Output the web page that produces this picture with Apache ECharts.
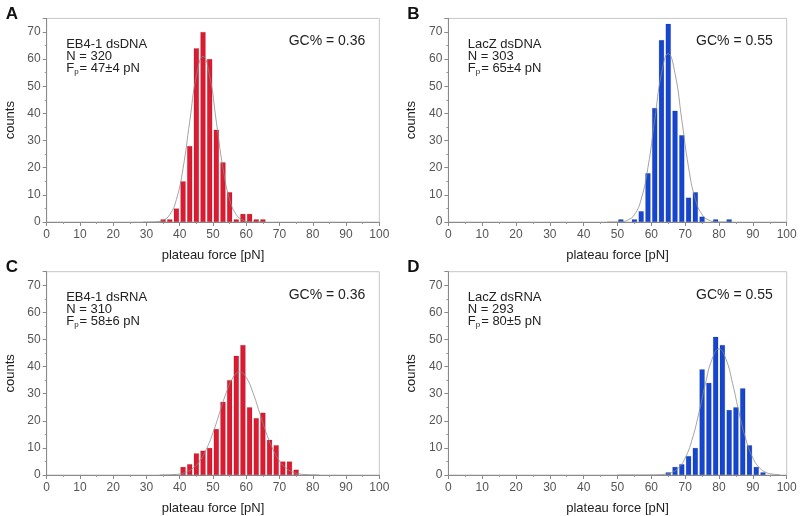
<!DOCTYPE html>
<html>
<head>
<meta charset="utf-8">
<script src="https://cdn.jsdelivr.net/npm/echarts@6/dist/echarts.min.js"></script>
<style>
  html, body { margin: 0; padding: 0; background: #fff; }
  #chart { width: 800px; height: 516px; }
</style>
</head>
<body>
<div id="chart"></div>
<script>
// histogram bins (bin centres, 2 pN wide) and counts
const binsA = [35, 37, 39, 41, 43, 45, 47, 49, 51, 53, 55, 57, 59, 61, 63, 65];
const countsA = [1, 1, 5, 15, 28, 64, 70, 60, 34, 22, 11, 1, 3, 3, 1, 1];
const binsB = [51, 55, 57, 59, 61, 63, 65, 67, 69, 71, 73, 75, 79, 83];
const countsB = [1, 1, 4, 18, 42, 67, 73, 41, 32, 9, 11, 2, 1, 1];
const binsC = [41, 43, 45, 47, 49, 51, 53, 55, 57, 59, 61, 63, 65, 67, 69, 71, 73, 75];
const countsC = [3, 4, 8, 9, 10, 17, 27, 35, 44, 48, 25, 21, 23, 13, 11, 5, 5, 2];
const binsD = [65, 67, 69, 71, 73, 75, 77, 79, 81, 83, 85, 87, 89, 91, 93];
const countsD = [1, 3, 4, 7, 10, 39, 34, 51, 48, 24, 25, 32, 11, 3, 1];

// gaussian fit curves
const fitXA = [29, 31, 33, 35, 37, 39, 41, 43, 45, 47, 49, 51, 53, 55, 57, 59, 61, 63, 65];
const fitYA = [0, 0, 0.1, 0.7, 2.7, 8.3, 19.8, 37, 53.8, 61, 53.8, 37, 19.8, 8.3, 2.7, 0.7, 0.1, 0, 0];
const fitXB = [47, 49, 51, 53, 55, 57, 59, 61, 63, 65, 67, 69, 71, 73, 75, 77, 79, 81, 83];
const fitYB = [0, 0, 0.1, 0.7, 2.7, 8.4, 20.1, 37.6, 54.7, 62, 54.7, 37.6, 20.1, 8.4, 2.7, 0.7, 0.1, 0, 0];
const fitXC = [34, 36, 38, 40, 42, 44, 46, 48, 50, 52, 54, 56, 58, 60, 62, 64, 66, 68, 70, 72, 74, 76, 78, 80, 82];
const fitYC = [0, 0.05, 0.15, 0.4, 1.1, 2.5, 5.1, 9.5, 15.6, 23, 30.4, 35.9, 38, 35.9, 30.4, 23, 15.6, 9.5, 5.1, 2.5, 1.1, 0.4, 0.15, 0.05, 0];
const fitXD = [50, 52, 54, 56, 58, 60, 62, 64, 66, 68, 70, 72, 74, 76, 78, 80, 82, 84, 86, 88, 90, 92, 94, 96, 98];
const fitYD = [0, 0, 0, 0, 0, 0.02, 0.07, 0.3, 0.9, 2.6, 6.3, 12.9, 22.6, 33.8, 42.9, 46.5, 42.9, 33.8, 22.6, 12.9, 6.3, 2.6, 0.9, 0.3, 0.07];

const panels = [
  { letter: "A", name: "EB4-1 dsDNA", n: 320, fp: "47±4", gc: "0.36", bins: binsA, counts: countsA, fx: fitXA, fy: fitYA, color: "#de1a30" },
  { letter: "B", name: "LacZ dsDNA", n: 303, fp: "65±4", gc: "0.55", bins: binsB, counts: countsB, fx: fitXB, fy: fitYB, color: "#1546d2" },
  { letter: "C", name: "EB4-1 dsRNA", n: 310, fp: "58±6", gc: "0.36", bins: binsC, counts: countsC, fx: fitXC, fy: fitYC, color: "#de1a30" },
  { letter: "D", name: "LacZ dsRNA", n: 293, fp: "80±5", gc: "0.55", bins: binsD, counts: countsD, fx: fitXD, fy: fitYD, color: "#1546d2" },
];

const font = "Liberation Sans, Arial, sans-serif";
const gridPos = [
  { left: 46.7, top: 18.4, width: 332.6, height: 203.6 },
  { left: 448.3, top: 18.4, width: 338.4, height: 203.6 },
  { left: 46.7, top: 271.7, width: 332.6, height: 204 },
  { left: 448.3, top: 271.7, width: 338.4, height: 204 },
];

const grids = [], xAxes = [], yAxes = [], series = [], titles = [];

panels.forEach(function (p, i) {
  const g = gridPos[i];
  grids.push(Object.assign({ show: true, borderColor: "#c6c6c6", borderWidth: 1, containLabel: false }, g));
  xAxes.push({
    type: "value", gridIndex: i, min: 0, max: 100, interval: 10,
    name: "plateau force [pN]", nameLocation: "middle", nameGap: 27,
    nameTextStyle: { fontFamily: font, fontSize: 13, color: "#222" },
    axisLine: { show: true, onZero: false, lineStyle: { color: "#8a8a8a" } },
    axisTick: { show: true, length: 4, lineStyle: { color: "#8a8a8a" } },
    minorTick: { show: true, splitNumber: 2, length: 2, lineStyle: { color: "#9a9a9a" } },
    axisLabel: { fontFamily: font, fontSize: 12, color: "#555", margin: 7 },
    splitLine: { show: false },
  });
  yAxes.push({
    type: "value", gridIndex: i, min: 0, max: 75, interval: 10,
    name: "counts", nameLocation: "middle", nameGap: 30,
    nameTextStyle: { fontFamily: font, fontSize: 13, color: "#222" },
    axisLine: { show: true, lineStyle: { color: "#8a8a8a" } },
    axisTick: { show: true, length: 4, lineStyle: { color: "#8a8a8a" } },
    minorTick: { show: true, splitNumber: 2, length: 2, lineStyle: { color: "#9a9a9a" } },
    axisLabel: { fontFamily: font, fontSize: 12, color: "#555", margin: 6, showMaxLabel: false },
    splitLine: { show: false },
  });
  series.push({
    type: "bar", xAxisIndex: i, yAxisIndex: i,
    data: p.bins.map(function (b, k) { return [b, p.counts[k]]; }),
    barWidth: 5.3,
    itemStyle: { color: p.color, borderColor: "rgba(0,0,0,0.25)", borderWidth: 0.5 },
    silent: true,
  });
  series.push({
    type: "line", xAxisIndex: i, yAxisIndex: i,
    data: p.fx.map(function (x, k) { return [x, p.fy[k]]; }),
    smooth: true, symbol: "none",
    lineStyle: { color: "#8c8c8c", width: 0.8 },
    silent: true, z: 5,
  });

  const left = g.left, top = g.top;
  titles.push({
    text: p.letter, left: left - 41, top: top - 13,
    textStyle: { fontFamily: font, fontSize: 17, fontWeight: "bold", color: "#111" },
  });
  titles.push({
    text: p.name + "\nN = " + p.n + "\n{f|F}{s|p}{f|= " + p.fp + " pN}",
    left: left + 19.5, top: top + 20,
    textStyle: {
      fontFamily: font, fontSize: 13, lineHeight: 12, color: "#222", fontWeight: "normal",
      rich: {
        f: { fontFamily: font, fontSize: 13, lineHeight: 12, color: "#222" },
        s: { fontFamily: font, fontSize: 8, lineHeight: 12, color: "#222", padding: [7, 1, 0, 0] },
      },
    },
  });
  titles.push({
    text: "GC% = " + p.gc, right: 800 - (left + g.width) + 14, top: top + 16,
    textStyle: { fontFamily: font, fontSize: 14, color: "#222", fontWeight: "normal" },
  });
});

const myChart = echarts.init(document.getElementById("chart"), null, { renderer: "canvas" });
myChart.setOption({
  animation: false,
  backgroundColor: "#fff",
  title: titles.map(function (t) { return Object.assign({ padding: 0 }, t); }),
  grid: grids,
  xAxis: xAxes,
  yAxis: yAxes,
  series: series,
});
</script>
</body>
</html>
